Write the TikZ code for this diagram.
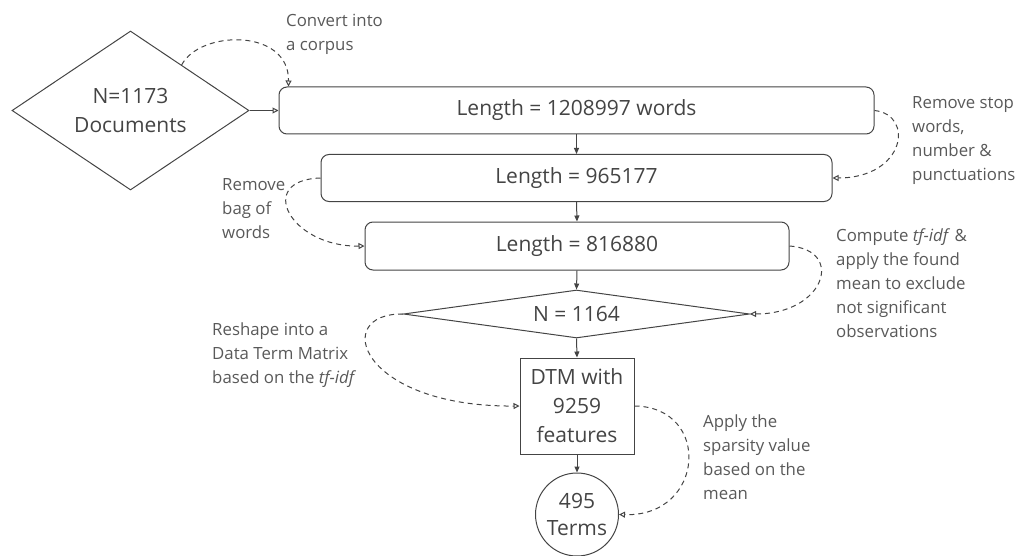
\documentclass[tikz,border=0pt]{standalone}
\usepackage{fontspec}
\setmainfont{Open Sans}
\usetikzlibrary{shapes.geometric,arrows.meta,calc}
\definecolor{linec}{HTML}{444444}
\definecolor{nodetext}{HTML}{444444}
\definecolor{notetext}{HTML}{595959}
\tikzset{
  boxnode/.style={draw=linec, line width=1pt, rounded corners=8pt, inner sep=0pt},
  plainbox/.style={draw=linec, line width=1pt, inner sep=0pt},
  dia/.style={draw=linec, line width=1pt, diamond, inner sep=0pt},
  circ/.style={draw=linec, line width=1pt, circle, inner sep=0pt, minimum size=83pt},
  maintxt/.style={text=nodetext, font=\fontsize{21}{29}\selectfont, align=center},
  note/.style={text=notetext, font=\fontsize{16.8}{24}\selectfont, align=left, anchor=north west, inner sep=0pt},
  flow/.style={draw=linec, line width=1pt, -{Triangle[length=6pt,width=5pt]}},
  flowopen/.style={draw=linec, line width=1pt, -{Triangle[open,length=6pt,width=6pt]}},
  dashconn/.style={draw=linec, line width=1pt, dash pattern=on 5pt off 4pt, -{Triangle[open,length=6pt,width=6pt]}}
}
\begin{document}
\begin{tikzpicture}[x=1pt,y=-1pt]
\useasboundingbox (0,0) rectangle (1016,556);
% shapes
\node[dia, minimum width=237pt, minimum height=159pt] (d1) at (130.5,110.5) {};
\node[maintxt] (d1t) at (d1) {N=1173\\Documents};
\node[boxnode, minimum width=595pt, minimum height=47pt] (b1) at (576.5,110.5) {};
\node[maintxt] (b1t) at (b1) {Length = 1208997 words};
\node[boxnode, minimum width=511pt, minimum height=47pt] (b2) at (576.5,178) {};
\node[maintxt] (b2t) at (b2) {Length = 965177};
\node[boxnode, minimum width=424pt, minimum height=48pt] (b3) at (577,246) {};
\node[maintxt] (b3t) at (b3) {Length = 816880};
\node[dia, minimum width=346pt, minimum height=48pt] (d2) at (576.5,314) {};
\node[maintxt] (d2t) at (d2) {N = 1164};
\node[plainbox, minimum width=114pt, minimum height=96pt] (dtm) at (577,406) {};
\node[maintxt] (dtmt) at (dtm) {DTM with\\9259\\features};
\node[circ] (c) at (577,514.5) {};
\node[maintxt, font=\fontsize{21}{27}\selectfont] (ct) at (c) {495\\Terms};
% flow arrows
\draw[flowopen] (d1.east) -- (b1.west);
\draw[flow] (b1.south) -- (b2.north);
\draw[flow] (b2.south) -- (b3.north);
\draw[flow] (b3.south) -- (d2.north);
\draw[flow] (d2.south) -- (dtm.north);
\draw[flow] (dtm.south) -- (c.north);
% dashed connectors
\coordinate (s1) at ($(d1.north)!0.43!(d1.east)$);
\coordinate (e1) at ($(b1.north west)+(10,0)$);
\draw[dashconn] (s1) .. controls (200,30) and (289,28) .. (e1);
\draw[dashconn] (b1.east) .. controls (915,115) and (905,178) .. (b2.east);
\draw[dashconn] (b2.west) .. controls (255,180) and (290,247) .. (b3.west);
\draw[dashconn] (b3.east) .. controls (845,250) and (825,314) .. (d2.east);
\draw[dashconn] (d2.west) .. controls (330,313) and (360,407) .. (dtm.west);
\draw[dashconn] (dtm.east) .. controls (712,407) and (705,517) .. (c.east);
% notes
\node[note] (n1) at (286,14) {Convert into\\a corpus};
\node[note] (n2) at (912,96) {Remove stop\\words,\\number \&\\punctuations};
\node[note] (n3) at (222,178) {Remove\\bag of\\words};
\node[note] (n4) at (836,228) {Compute \textit{tf-idf} \&\\apply the found\\mean to exclude\\not significant\\observations};
\node[note] (n5) at (212,323) {Reshape into a\\Data Term Matrix\\based on the \textit{tf-idf}};
\node[note] (n6) at (703,415) {Apply the\\sparsity value\\based on the\\mean};
\end{tikzpicture}
\end{document}
